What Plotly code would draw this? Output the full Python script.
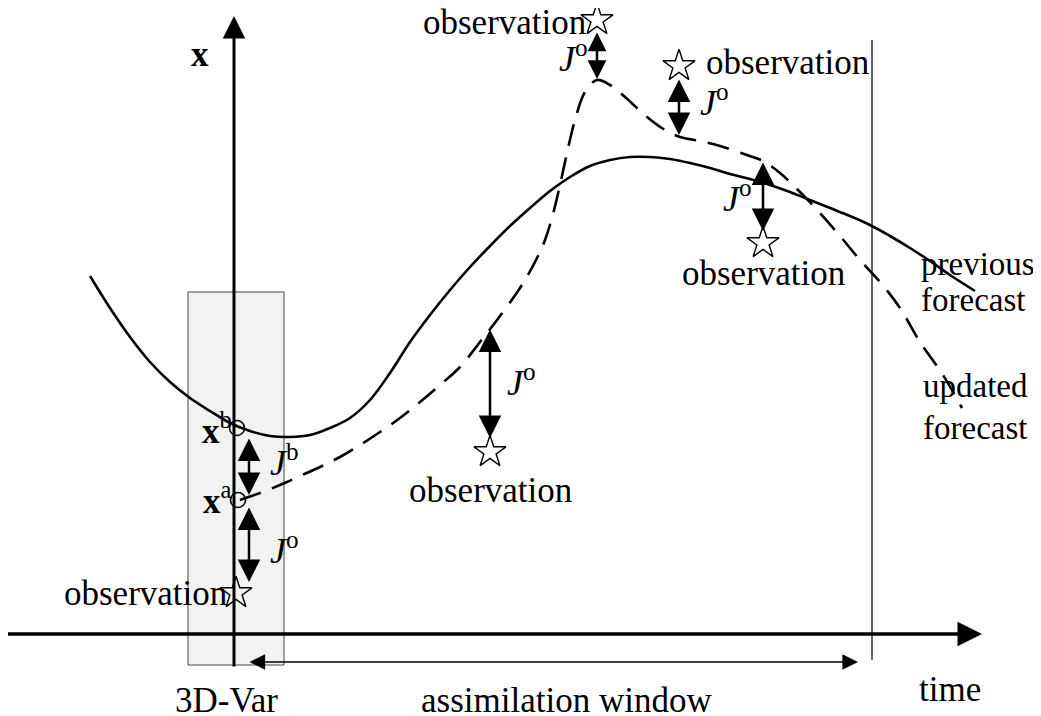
import plotly.graph_objects as go

# ---- data (pixel-space schematic coordinates) ----
prev_x = [90, 110, 130, 150, 170, 190, 210, 230, 250, 270, 290, 310, 330, 350, 370, 390, 410, 430, 450, 470, 490, 510, 530, 550, 570, 590, 610, 630, 650, 670, 690, 710, 730, 750, 770, 790, 810, 830, 850, 870, 890, 910, 930, 950, 975]
prev_y = [276, 308, 337, 362, 382, 398, 411, 423, 431, 436, 437, 435, 428, 418, 400, 373, 342, 315, 290, 267, 246, 226, 208, 191, 177, 166, 160, 157, 157, 159, 163, 168, 174, 179, 185, 192, 200, 208, 216, 225, 236, 248, 261, 275, 291]

upd_x = [240, 260, 280, 300, 320, 340, 360, 380, 400, 420, 440, 460, 480, 500, 520, 535, 545, 553, 560, 567, 575, 585, 597, 610, 625, 647, 665, 680, 700, 720, 747, 763, 780, 800, 820, 840, 860, 880, 900, 920, 943, 962]
upd_y = [500, 493, 485, 476, 467, 457, 445, 432, 418, 402, 385, 367, 342, 316, 288, 262, 240, 214, 185, 153, 120, 92, 80, 85, 97, 117, 130, 137, 141, 146, 155, 161, 173, 192, 213, 236, 260, 282, 308, 342, 375, 408]

obs_x = [597, 679, 763, 490, 236]
obs_y = [20, 66, 243, 452, 593]

# J-o arrows: (x, y_top, y_bottom)
jo_x = [597, 679, 763, 490, 249]
jo_top = [31, 78, 161, 328, 506]
jo_bot = [79, 135, 231, 438, 582]
jo_head = [1.5, 1.8, 1.8, 1.8, 1.8]

state_x = [237, 238]
state_y = [428, 500]

font = "Liberation Serif"
fs = 35

fig = go.Figure()

fig.add_trace(go.Scatter(x=prev_x, y=prev_y, mode="lines", line=dict(color="black", width=2.6, shape="spline", smoothing=1.0), hoverinfo="skip", showlegend=False))
fig.add_trace(go.Scatter(x=upd_x, y=upd_y, mode="lines", line=dict(color="black", width=2.6, shape="spline", smoothing=1.0, dash="22px,12px"), hoverinfo="skip", showlegend=False))
fig.add_trace(go.Scatter(x=obs_x, y=obs_y, mode="markers", marker=dict(symbol="star-open", size=24, color="black", line=dict(width=1.4)), hoverinfo="skip", showlegend=False))
fig.add_trace(go.Scatter(x=state_x, y=state_y, mode="markers", marker=dict(symbol="circle-open", size=15, color="black", line=dict(width=1.6)), hoverinfo="skip", showlegend=False))

# background box and window line
fig.add_shape(type="rect", x0=188, x1=284, y0=292, y1=665, fillcolor="#f2f2f2", line=dict(color="#444", width=1), layer="below")
fig.add_shape(type="line", x0=872, x1=872, y0=40, y1=660, line=dict(color="black", width=1.2))

def arrow(x0, y0, x1, y1, width=2.5, both=False, size=1.8, head=2):
    fig.add_annotation(x=x1, y=y1, ax=x0, ay=y0, xref="x", yref="y", axref="x", ayref="y",
                       text="", showarrow=True, arrowhead=head, startarrowhead=head, arrowsize=size, startarrowsize=size,
                       arrowwidth=width, arrowcolor="black", arrowside="end+start" if both else "end",
                       standoff=0, startstandoff=0)

# main axes
arrow(234, 668, 234, 16, width=3, size=1.5)
arrow(5, 634, 982, 634, width=3.5, size=1.4)
# assimilation window
arrow(248, 662, 858, 662, width=1.3, both=True, size=2.4)
# J arrows
for xx, t, b, hs in zip(jo_x, jo_top, jo_bot, jo_head):
    arrow(xx, t, xx, b, both=True, size=hs)
# J^b arrow
arrow(249, 437, 249, 495, both=True)

def label(text, x, y, xanchor="center", size=fs):
    fig.add_annotation(x=x, y=y, xref="x", yref="y", text=text, showarrow=False, xanchor=xanchor, yanchor="middle",
                       font=dict(family=font, size=size, color="black"))

label("observation", 588, 22, "right")
label("observation", 704, 62, "left")
label("observation", 763, 273, "center")
label("observation", 490, 490, "center")
label("observation", 229, 593, "right")

jfs = 36
jo = "<i>J</i><sup>o</sup>"
label(jo, 573, 56, size=jfs)
label(jo, 714, 100, size=jfs)
label(jo, 737, 196, size=jfs)
label(jo, 521, 380, size=jfs)
label(jo, 284, 548, size=jfs)
label("<i>J</i><sup>b</sup>", 284, 460, size=jfs)

label("<b>x</b><sup>b</sup>", 217, 428)
label("<b>x</b><sup>a</sup>", 217, 498)
label("<b>x</b>", 200, 54)

label("previous", 919, 264, "left", size=33)
label("forecast", 919, 300, "left", size=33)
label("updated", 921, 386, "left", size=33)
label("forecast", 921, 428, "left", size=33)

label("time", 950, 689)
label("3D-Var", 226, 700)
label("assimilation window", 566, 700)

# page body has an 8px default margin: shift ranges so coordinates equal page pixels
fig.update_layout(width=1041, height=716, margin=dict(l=0, r=0, t=0, b=0),
                  paper_bgcolor="white", plot_bgcolor="white",
                  xaxis=dict(range=[8, 1049], visible=False, fixedrange=True),
                  yaxis=dict(range=[724, 8], visible=False, fixedrange=True),
                  showlegend=False)

fig.write_html("out.html")
